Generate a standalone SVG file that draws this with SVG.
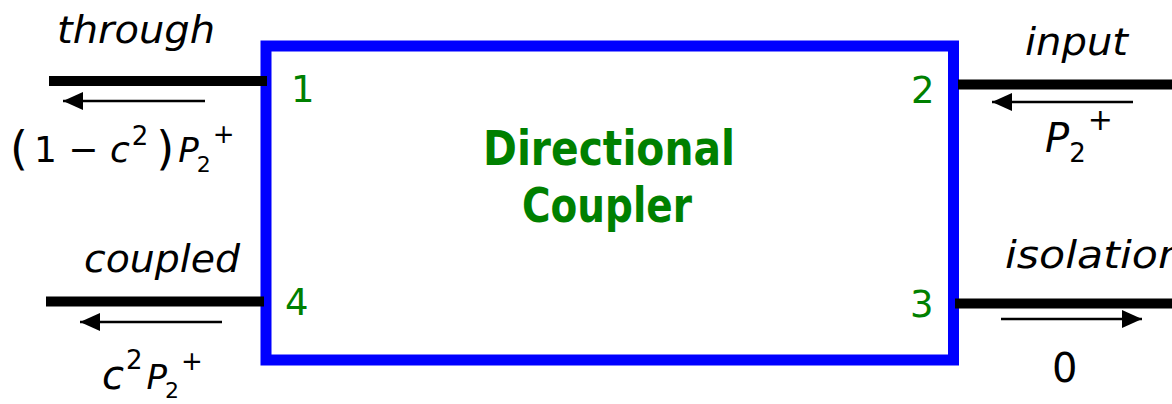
<svg xmlns="http://www.w3.org/2000/svg" width="1172" height="404" viewBox="0 0 1172 404">
<defs>
<marker id="ah" markerWidth="20" markerHeight="18" refX="20" refY="9" orient="auto" markerUnits="userSpaceOnUse">
<path d="M0,0 L20,9 L0,18 Z" fill="#000"/>
</marker>
<style>
.lbl{font-family:"DejaVu Sans",sans-serif;font-style:italic;font-size:37px;fill:#000}
.math{font-family:"DejaVu Sans",sans-serif;font-size:36px;fill:#000}
.zero{font-size:40px}
.mi{font-style:italic}
.port{font-family:"DejaVu Sans",sans-serif;font-size:37px;fill:#008000}
.title{font-family:"DejaVu Sans",sans-serif;font-weight:bold;font-size:48px;fill:#008000}
.line{stroke:#000;stroke-width:10;fill:none}
.arr{stroke:#000;stroke-width:2.5;fill:none;marker-end:url(#ah)}
</style>
</defs>
<g id="coupler">
<rect x="266" y="46" width="687.5" height="314" fill="#fff" stroke="#0000ff" stroke-width="11"/>
<text class="title" x="609" y="165" text-anchor="middle" textLength="252" lengthAdjust="spacingAndGlyphs">Directional</text>
<text class="title" x="607" y="222" text-anchor="middle" textLength="170" lengthAdjust="spacingAndGlyphs">Coupler</text>
</g>
<g id="port1">
<text class="port" x="291" y="102">1</text>
<text class="lbl" x="57" y="43" textLength="158" lengthAdjust="spacingAndGlyphs">through</text>
<text class="math" x="10" y="162"><tspan font-size="46" dy="2">(</tspan><tspan dx="6" dy="-2">1 − </tspan><tspan class="mi">c</tspan><tspan font-size="26" dy="-17" dx="2">2</tspan><tspan dy="19" font-size="46" dx="8">)</tspan><tspan class="mi" font-size="34" dx="4" dy="-2">P</tspan><tspan font-size="22" dy="10" dx="-2">2</tspan><tspan font-size="26" dy="-29" dx="2">+</tspan></text>
</g>
<g id="port2">
<text class="port" x="911" y="103">2</text>
<text class="lbl" x="1025" y="55" textLength="103" lengthAdjust="spacingAndGlyphs">input</text>
<text class="math" x="1045" y="152"><tspan class="mi" font-size="40">P</tspan><tspan font-size="26" dy="10" dx="0">2</tspan><tspan font-size="30" dy="-32" dx="2">+</tspan></text>
</g>
<g id="port3">
<text class="port" x="910" y="317">3</text>
<text class="lbl" x="1005" y="268" textLength="180" lengthAdjust="spacingAndGlyphs">isolation</text>
<text class="math zero" x="1052" y="382">0</text>
</g>
<g id="port4">
<text class="port" x="285" y="315">4</text>
<text class="lbl" x="84" y="272" textLength="156" lengthAdjust="spacingAndGlyphs">coupled</text>
<text class="math" x="102" y="389"><tspan class="mi" font-size="40">c</tspan><tspan font-size="26" dy="-20" dx="2">2</tspan><tspan class="mi" font-size="34" dy="20" dx="4">P</tspan><tspan font-size="22" dy="9" dx="-2">2</tspan><tspan font-size="26" dy="-28" dx="2">+</tspan></text>
</g>
<g id="connectors">
<line class="line" x1="49" y1="81" x2="267" y2="81"/>
<line class="line" x1="958" y1="84.5" x2="1172" y2="84.5"/>
<line class="line" x1="46" y1="301.5" x2="264" y2="301.5"/>
<line class="line" x1="955" y1="303.5" x2="1172" y2="303.5"/>
<line class="arr" x1="205" y1="101" x2="63" y2="101"/>
<line class="arr" x1="1133" y1="102" x2="992" y2="102"/>
<line class="arr" x1="222" y1="322" x2="80" y2="322"/>
<line class="arr" x1="1001" y1="319" x2="1142" y2="319"/>
</g>
</svg>
